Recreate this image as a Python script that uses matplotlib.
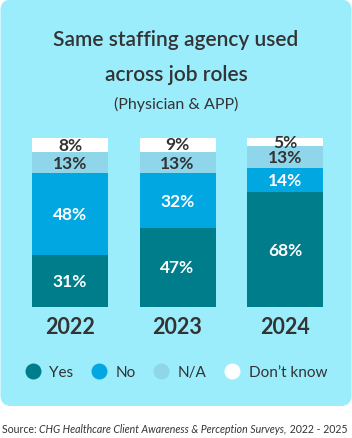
import matplotlib.pyplot as plt
from matplotlib.patches import FancyBboxPatch
from matplotlib.lines import Line2D

plt.rcParams['font.family'] = ['Lato', 'DejaVu Sans']

# data
years = ["2022", "2023", "2024"]
categories = ["Yes", "No", "N/A", "Don\u2019t know"]
yes = [31, 47, 68]
no = [48, 32, 14]
na = [13, 13, 13]
dont_know = [8, 9, 5]
series = [yes, no, na, dont_know]

colors = ["#007d8a", "#00a7e1", "#8fd6ea", "#ffffff"]
label_colors = ["white", "white", "#333333", "#333333"]
dark = "#333333"
card_bg = "#9cedfc"

W, H = 352, 439
fig = plt.figure(figsize=(W / 100, H / 100), dpi=100)

# card background
card = FancyBboxPatch((0.5 / W, 32 / H), 351 / W, (H - 32.5) / H,
                      boxstyle="round,pad=0,rounding_size=0.03",
                      transform=fig.transFigure, facecolor=card_bg,
                      edgecolor="none", mutation_aspect=W / H, zorder=-10)
fig.patches.append(card)

# titles
fig.text(0.5, 1 - 40 / H, "Same staffing agency used", ha="center", va="center",
         fontsize=15, fontweight="semibold", color=dark)
fig.text(0.5, 1 - 75 / H, "across job roles", ha="center", va="center",
         fontsize=15, fontweight="semibold", color=dark)
fig.text(0.5, 1 - 104 / H, "(Physician & APP)", ha="center", va="center",
         fontsize=11.5, color=dark)

# bar axes
spacing = 107.5
ax = fig.add_axes([0, (H - 308) / H, 1, 169 / H])
ax.set_xlim(-70 / spacing, (W - 70) / spacing)
ax.set_ylim(0, 100)
ax.axis("off")

x = list(range(len(years)))
bottom = [0, 0, 0]
for vals, c, lc in zip(series, colors, label_colors):
    ax.bar(x, vals, width=76 / spacing, bottom=bottom, color=c, linewidth=0)
    for i, v in enumerate(vals):
        ax.text(x[i], bottom[i] + v / 2, f"{v}%", ha="center", va="center",
                fontsize=12.5, fontweight="bold", color=lc)
    bottom = [b + v for b, v in zip(bottom, vals)]

for i, yr in enumerate(years):
    ax.text(x[i], -11.5, yr, ha="center", va="center", fontsize=15.5,
            fontweight="bold", color=dark, clip_on=False)

# legend
handles = [Line2D([], [], marker="o", linestyle="none", markersize=11.5,
                  markerfacecolor=c, markeredgecolor="none") for c in colors]
fig.legend(handles, categories, loc="center", bbox_to_anchor=(0.5, 1 - 373 / H),
           ncol=4, frameon=False, fontsize=11, labelcolor=dark,
           handletextpad=0.6, columnspacing=1.15, handlelength=1.0)

# source line
fig.canvas.draw()
r = fig.canvas.get_renderer()
parts = [("Source: ", "normal"),
         ("CHG Healthcare Client Awareness & Perception Surveys,", "italic"),
         (" 2022 - 2025", "normal")]
xpos = 2
for txt, style in parts:
    t = fig.text(xpos / W, 1 - 430 / H, txt, ha="left", va="center",
                 fontsize=7.6, style=style, color=dark)
    xpos += t.get_window_extent(r).width

fig.savefig("out.png", dpi=100)
